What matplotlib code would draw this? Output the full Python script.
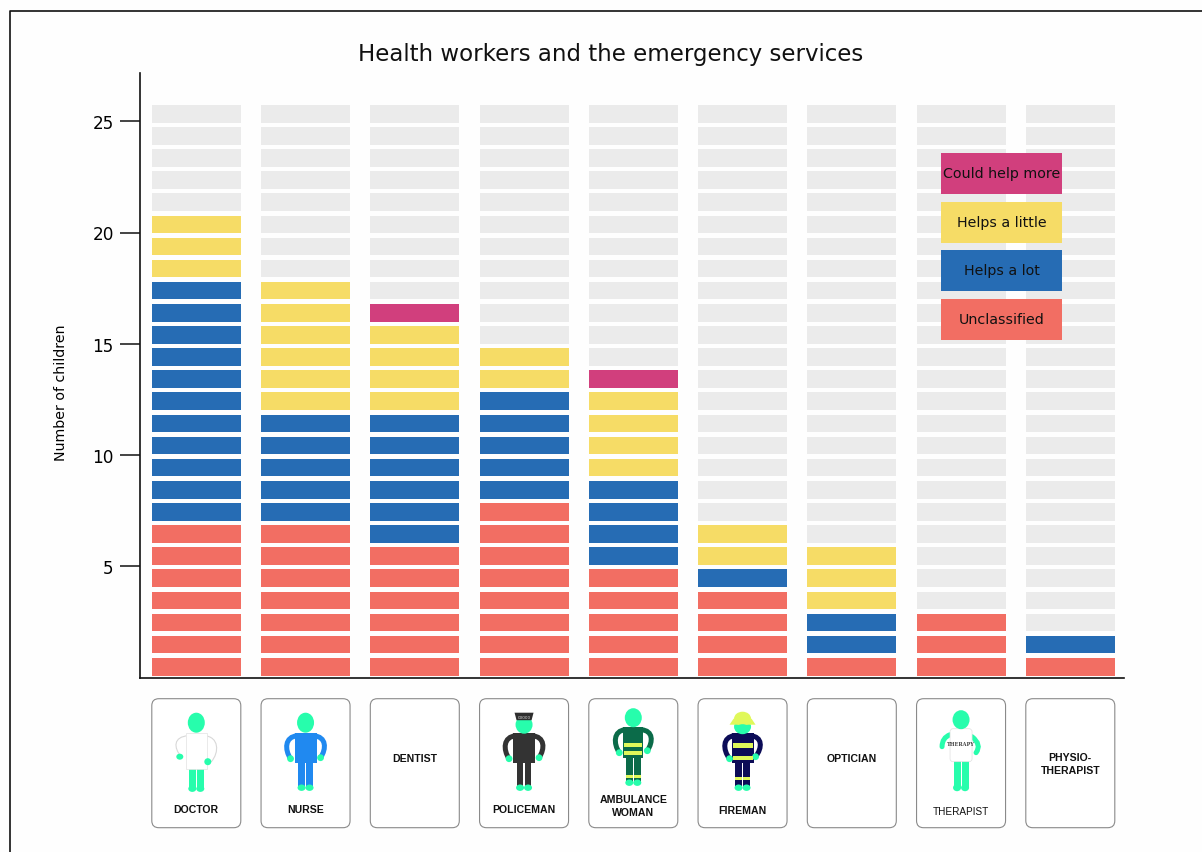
import numpy as np
import matplotlib
matplotlib.use("Agg")
import matplotlib.pyplot as plt
from matplotlib.patches import Rectangle, FancyBboxPatch, Ellipse, PathPatch, Polygon
from matplotlib.path import Path

# ---- data ----
occupations = ["DOCTOR", "NURSE", "DENTIST", "POLICEMAN", "AMBULANCE\nWOMAN",
               "FIREMAN", "OPTICIAN", "THERAPIST", "PHYSIO-\nTHERAPIST"]
unclassified = [7, 7, 6, 8, 5, 4, 1, 3, 1]
helps_a_lot = [11, 5, 6, 5, 4, 1, 2, 0, 1]
helps_a_little = [3, 6, 4, 2, 4, 2, 3, 0, 0]
could_help_more = [0, 0, 1, 0, 1, 0, 0, 0, 0]
series_names = ["Unclassified", "Helps a lot", "Helps a little", "Could help more"]
series_colors = ["#F26E63", "#266CB4", "#F6DC66", "#D13F7D"]
y_ticks = [5, 10, 15, 20, 25]
grid_rows = 26

W, H = 1202, 853
fig = plt.figure(figsize=(W / 100, H / 100), dpi=100, facecolor="#FEFEFE")


def axbox(l, t, r, b):
    return [l / W, 1 - b / H, (r - l) / W, (b - t) / H]


ax = fig.add_axes(axbox(139.5, 73.5, 1124, 678.5), facecolor="none")
unit = 22.25
ax.set_ylim(0, (678.5 - 73.5) / unit)
ax.set_xlim((139.5 - 196.3) / 109.25, (1124 - 196.3) / 109.25)

pitch = 22.12 / unit
cell_h = 17.6 / unit
offset = 2.0 / unit
bar_w = 89 / 109.25
xs = np.arange(len(occupations))

for row in range(grid_rows):
    ax.bar(xs, cell_h, bottom=offset + row * pitch, width=bar_w, color="#EBEBEB", linewidth=0, zorder=1)

stack = [unclassified, helps_a_lot, helps_a_little, could_help_more]
for i, x in enumerate(xs):
    row = 0
    for vals, col in zip(stack, series_colors):
        for _ in range(vals[i]):
            ax.bar(x, cell_h, bottom=offset + row * pitch, width=bar_w, color=col, linewidth=0, zorder=2)
            row += 1

for s in ("top", "right"):
    ax.spines[s].set_visible(False)
for s in ("left", "bottom"):
    ax.spines[s].set_linewidth(1.2)
    ax.spines[s].set_color("#111111")
ax.set_xticks([])
ax.set_yticks(y_ticks)
ax.tick_params(axis="y", length=14.5, width=1.1, pad=4, labelsize=12.2, color="#111111")
ax.set_ylabel("Number of children", fontsize=10.2, labelpad=0)
ax.yaxis.set_label_coords((68 - 139.5) / (1124 - 139.5), (678 - 392) / (678 - 73))

# overlay in pixel coordinates for frame, title, legend and cards
ov = fig.add_axes([0, 0, 1, 1], facecolor="none")
ov.set_xlim(0, W)
ov.set_ylim(H - 0.7, -0.7)
ov.axis("off")

ov.plot([9.5, 9.5, W + 5], [H + 5, 11, 11], color="#111111", lw=1.2, clip_on=False)
ov.text(611, 54, "Health workers and the emergency services", ha="center", va="center",
        fontsize=16.45, color="#111111")

legend_tops = [299, 250, 202, 153]
for top, name, col in zip(legend_tops, series_names, series_colors):
    ov.add_patch(Rectangle((941, top), 121, 41, facecolor=col, edgecolor="none", zorder=3))
    ov.text(1001.5, top + 20.5, name, ha="center", va="center", fontsize=10.3, color="#111111", zorder=4)

SKIN = "#27FDAC"
HI = "#E0F85A"


def arm(cx, side, y0, bulge, hand_dx, hand_y, color, lw=3.6):
    p = Path([(cx + side * 8, y0), (cx + side * (bulge + 2), y0 + 1),
              (cx + side * (bulge + 2), hand_y - 9), (cx + side * hand_dx, hand_y)],
             [Path.MOVETO, Path.CURVE4, Path.CURVE4, Path.CURVE4])
    ov.add_patch(PathPatch(p, fill=False, edgecolor=color, lw=lw, capstyle="round", zorder=5))


def person(cx, head_y, head_h, torso, legs, body, leg_col, arm_col, bulge=21, hand=15, hand_ys=(759, 758),
           bands=(), leg_band=None, torso_w=11, hand_r=3.4, arm_lw=3.6):
    for side, hy in zip((-1, 1), hand_ys):
        arm(cx, side, torso[0] + 3, bulge - 2, hand, hy, arm_col, lw=arm_lw)
        ov.add_patch(Ellipse((cx + side * hand, hy), hand_r * 2, hand_r * 2, facecolor=SKIN, edgecolor="none", zorder=7))
    ov.add_patch(Rectangle((cx - torso_w, torso[0]), 2 * torso_w, torso[1] - torso[0], facecolor=body,
                           edgecolor="none", zorder=6))
    for b0, b1 in bands:
        ov.add_patch(Rectangle((cx - torso_w + 1, b0), 2 * torso_w - 2, b1 - b0, facecolor=HI, edgecolor="none", zorder=7))
    for side in (-1, 1):
        lx = cx + side * 4 - 3.4
        ov.add_patch(Rectangle((lx, torso[1]), 6.8, legs - torso[1], facecolor=leg_col, edgecolor="none", zorder=5))
        ov.add_patch(Ellipse((cx + side * 4, legs), 8, 6.4, facecolor=SKIN, edgecolor="none", zorder=6))
        if leg_band:
            ov.add_patch(Rectangle((lx, leg_band[0]), 6.8, leg_band[1] - leg_band[0], facecolor=HI, edgecolor="none", zorder=7))
    ov.add_patch(Ellipse((cx, head_y), 17, head_h, facecolor=SKIN, edgecolor="none", zorder=8))


centers = [196.3 + 109.25 * i for i in range(9)]
label_ys = [809, 809, 758, 809, 806, 810, 758, 811, 764]
for i, (cx, name, ly) in enumerate(zip(centers, occupations, label_ys)):
    ov.add_patch(FancyBboxPatch((cx - 44.5 + 5, 699 + 5), 89 - 10, 129 - 10, boxstyle="round,pad=5,rounding_size=7",
                                facecolor="white", edgecolor="#8A8A8A", lw=0.8, zorder=2))
    ov.text(cx, ly, name, ha="center", va="center", fontsize=7.6 if name != "THERAPIST" else 7.2,
            family="Liberation Sans", weight="bold" if name != "THERAPIST" else "normal",
            color="#111111", linespacing=1.3, zorder=9)

# doctor: white coat, thin grey outline on the arms
cx = centers[0]
person(cx, 723, 20, (733, 769), 789, "white", SKIN, "#D8D8D8", bulge=23, hand=15, hand_ys=(757, 762), torso_w=10, hand_r=0.01, arm_lw=0.8)
ov.add_patch(Rectangle((cx - 10.5, 733), 21, 36, facecolor="white", edgecolor="#E2E2E2", lw=0.5, zorder=6))
ov.add_patch(Ellipse((cx - 16.5, 757), 7, 6, facecolor=SKIN, edgecolor="none", zorder=7))
ov.add_patch(Ellipse((cx + 11.5, 762), 7, 7, facecolor=SKIN, edgecolor="none", zorder=7))
# nurse
person(centers[1], 723, 20, (733, 763), 788, "#2089F0", "#2089F0", "#2089F0")
# policeman
cx = centers[3]
person(cx, 725, 18, (733, 763), 788, "#333333", "#333333", "#333333")
ov.add_patch(Polygon([(cx - 9.5, 713), (cx + 9.5, 713), (cx + 7.5, 720.5), (cx - 7.5, 720.5)],
                     facecolor="#2E2E2E", edgecolor="none", zorder=9))
ov.text(cx, 717, "00000", ha="center", va="center", fontsize=3, color="#DDDDDD", zorder=10)
# ambulance woman
person(centers[4], 718, 19, (727, 758), 783, "#0B6B49", "#0B6B49", "#0B6B49", bulge=20, hand=14, hand_ys=(753, 751),
       bands=((743, 747), (751, 755)), leg_band=(775, 778), torso_w=10)
# fireman
cx = centers[5]
person(cx, 727, 15, (733, 763), 788, "#0C0C57", "#0C0C57", "#0C0C57", bulge=20, hand=13, hand_ys=(759, 757),
       bands=((743, 748), (756, 760)), leg_band=(777, 780), torso_w=11)
ov.add_patch(Ellipse((cx, 719), 17, 14, facecolor=HI, edgecolor="none", zorder=9))
ov.add_patch(Polygon([(cx - 13, 725), (cx + 13, 725), (cx + 9, 719), (cx - 9, 719)], facecolor=HI, edgecolor="none", zorder=9))
ov.add_patch(Ellipse((cx, 729), 14, 9, facecolor=SKIN, edgecolor="none", zorder=10))
# therapist
cx = centers[7]
ov.add_patch(PathPatch(Path([(cx - 11, 735), (cx - 19, 738), (cx - 19, 747)], [Path.MOVETO, Path.CURVE3, Path.CURVE3]),
                       fill=False, edgecolor=SKIN, lw=3.6, capstyle="round", zorder=5))
ov.add_patch(PathPatch(Path([(cx + 11, 737), (cx + 21, 745), (cx + 15, 753)], [Path.MOVETO, Path.CURVE3, Path.CURVE3]),
                       fill=False, edgecolor=SKIN, lw=3.6, capstyle="round", zorder=5))
for side in (-1, 1):
    ov.add_patch(Rectangle((cx + side * 4 - 3.5, 760), 7, 28, facecolor=SKIN, edgecolor="none", zorder=5))
    ov.add_patch(Ellipse((cx + side * 4, 788), 8, 7, facecolor=SKIN, edgecolor="none", zorder=6))
ov.add_patch(FancyBboxPatch((cx - 9, 731), 18, 29, boxstyle="round,pad=2,rounding_size=3", facecolor="white",
                            edgecolor="#E0E0E0", lw=0.5, zorder=6))
ov.add_patch(Ellipse((cx, 720), 17, 19, facecolor=SKIN, edgecolor="none", zorder=8))
ov.text(cx, 744, "THERAPY", ha="center", va="center", fontsize=3.6, family="DejaVu Serif", weight="bold",
        color="#444444", zorder=9)

fig.savefig("out.png", dpi=100, facecolor=fig.get_facecolor())
